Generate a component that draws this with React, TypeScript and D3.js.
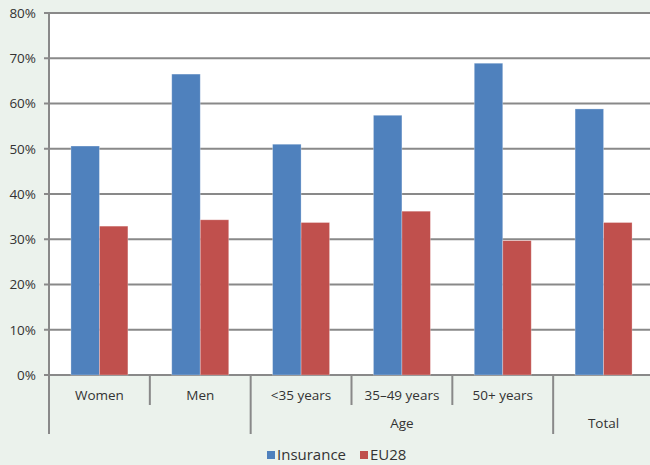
import React from "react";
import * as d3 from "d3";

const categories = ["Women", "Men", "<35 years", "35–49 years", "50+ years", "Total"];
const categoryLabels = ["Women", "Men", "<35 years", "35–49 years", "50+ years", ""];
const groupNames = ["", "Age", "Total"];
const groupStarts = [0, 2, 5];
const groupEnds = [1, 4, 5];
const seriesNames = ["Insurance", "EU28"];
const insurance = [0.506, 0.665, 0.51, 0.574, 0.689, 0.588];
const eu28 = [0.329, 0.343, 0.337, 0.362, 0.297, 0.337];
const yTicks = [0, 0.1, 0.2, 0.3, 0.4, 0.5, 0.6, 0.7, 0.8];

const W = 650;
const H = 465;
const left = 49;
const right = 654;
const top = 13;
const bottom = 375;
const colors = ["#4F81BD", "#C0504D"];
const gridColor = "#898989";
const font = "'Open Sans', 'DejaVu Sans', sans-serif";

export default function App() {
  const x = d3.scaleBand<string>().domain(categories).range([left, right]).padding(0);
  const xs = d3
    .scaleBand<string>()
    .domain(seriesNames)
    .range([0, x.bandwidth()])
    .paddingInner(0)
    .paddingOuter(0.77);
  const y = d3.scaleLinear().domain([0, 0.8]).range([bottom, top]);
  const values = [insurance, eu28];
  const fmt = d3.format(".0%");

  const shortLines = categories
    .map((_, i) => i)
    .filter((i) => i > 0 && !groupStarts.includes(i))
    .map((i) => x(categories[i]) as number);
  const longLines = [...groupStarts.map((i) => x(categories[i]) as number), right];

  return (
    <svg
      width={W}
      height={H}
      style={{ position: "absolute", left: 0, top: 0, display: "block" }}
      fontFamily={font}
    >
      <rect x={0} y={0} width={W} height={H} fill="#EBF2EC" />
      <rect x={left} y={top} width={right - left} height={bottom - top} fill="#FFFFFF" />

      {/* horizontal gridlines and y tick labels */}
      {yTicks.map((t) => (
        <g key={t}>
          <line x1={left - 5} x2={right} y1={y(t)} y2={y(t)} stroke={gridColor} strokeWidth={2} />
          <text
            x={36}
            y={y(t)}
            dy="0.36em"
            textAnchor="end"
            fontSize={13.5}
            fill="#333"
          >
            {fmt(t)}
          </text>
        </g>
      ))}

      {/* bars */}
      {seriesNames.map((s, si) =>
        categories.map((c, ci) => {
          const v = values[si][ci];
          return (
            <rect
              key={s + c}
              x={(x(c) as number) + (xs(s) as number)}
              y={y(v)}
              width={xs.bandwidth()}
              height={y(0) - y(v)}
              fill={colors[si]}
              stroke="#ffffff"
              strokeOpacity={0.35}
              strokeWidth={0.8}
            />
          );
        })
      )}

      {/* left axis */}
      <line x1={left} x2={left} y1={top - 1} y2={bottom} stroke={gridColor} strokeWidth={2} />

      {/* category axis separators */}
      {shortLines.map((lx, i) => (
        <line key={"s" + i} x1={lx} x2={lx} y1={bottom} y2={405} stroke={gridColor} strokeWidth={2} />
      ))}
      {longLines.map((lx, i) => (
        <line key={"l" + i} x1={lx} x2={lx} y1={bottom} y2={434} stroke={gridColor} strokeWidth={2} />
      ))}

      {/* first-level category labels */}
      {categories.map((c, i) => (
        <text
          key={"c" + c}
          x={(x(c) as number) + x.bandwidth() / 2}
          y={395}
          dy="0.36em"
          textAnchor="middle"
          fontSize={13.5}
          fill="#333"
        >
          {categoryLabels[i]}
        </text>
      ))}

      {/* group labels */}
      {groupNames.map((g, i) => {
        const x0 = x(categories[groupStarts[i]]) as number;
        const x1 = (x(categories[groupEnds[i]]) as number) + x.bandwidth();
        return (
          <text
            key={"g" + i}
            x={(x0 + x1) / 2}
            y={423}
            dy="0.36em"
            textAnchor="middle"
            fontSize={13.5}
            fill="#333"
          >
            {g}
          </text>
        );
      })}

      {/* legend */}
      {seriesNames.map((s, i) => {
        const lx = [267, 360][i];
        return (
          <g key={"lg" + s}>
            <rect x={lx} y={451} width={8} height={8} fill={colors[i]} />
            <text x={lx + 10} y={455} dy="0.36em" fontSize={15} fill="#333">
              {s}
            </text>
          </g>
        );
      })}
    </svg>
  );
}
